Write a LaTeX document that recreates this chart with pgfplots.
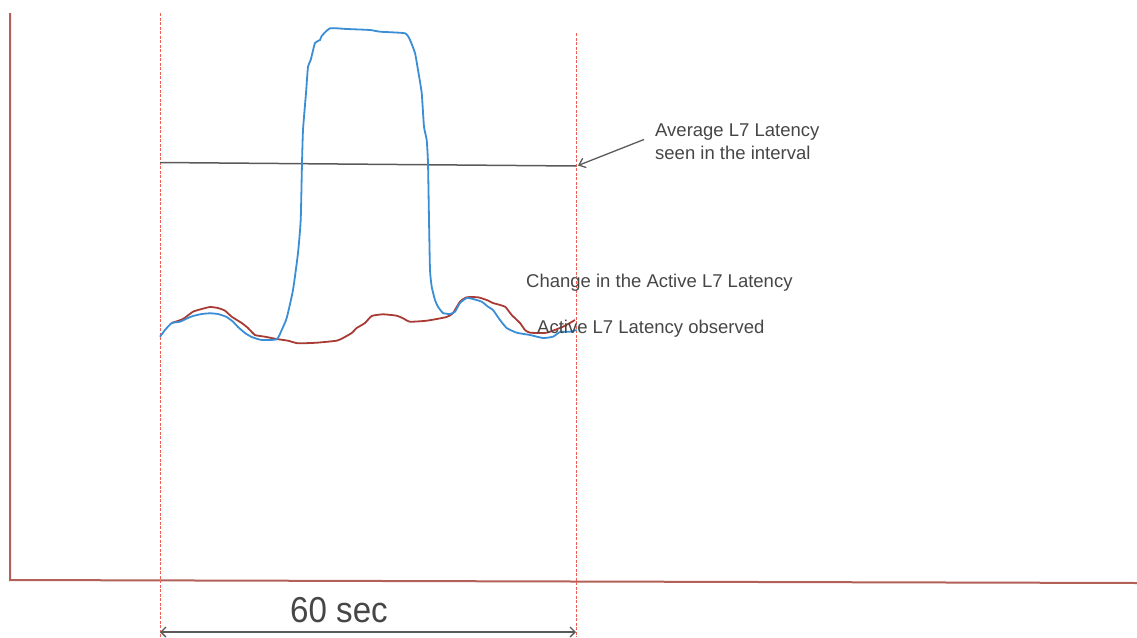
\documentclass[border=0pt]{standalone}
\usepackage{pgfplots}
\pgfplotsset{compat=1.18}
\usepackage{fontspec}
\setmainfont{Liberation Sans}
\usetikzlibrary{arrows.meta}
\definecolor{axisred}{RGB}{178,96,88}
\definecolor{dashred}{RGB}{238,96,84}
\definecolor{curveblue}{RGB}{58,142,214}
\definecolor{curvered}{RGB}{168,60,52}
\definecolor{txtgray}{RGB}{70,70,70}
\definecolor{linegray}{RGB}{90,90,90}
\begin{document}
\begin{tikzpicture}
\begin{axis}[
  width=1137pt, height=637pt, scale only axis,
  xmin=0, xmax=1137, ymin=0, ymax=637, y dir=reverse,
  hide axis, clip=false,
]
% axes
\addplot[axisred, line width=2pt] coordinates {(10,13) (10,580) (1137,583)};
% dashed interval lines
\addplot[dashred, line width=1pt, dash pattern=on 3pt off 1.5pt] coordinates {(160,13) (160,637)};
\addplot[dashred, line width=1pt, dash pattern=on 3pt off 1.5pt] coordinates {(576,33) (576,637)};
% average line
\addplot[linegray, line width=1.5pt] coordinates {(160,162.5) (576,166)};
% red curve (active latency observed)
\addplot[curvered, line width=1.8pt, smooth, tension=0.3] coordinates {
(171.7,323) (183,319) (193,311.7) (201.7,309) (210,307) (218,308) (225,310.7)
(231.7,316.7) (241.7,323) (248,328) (255,335) (265,336.7) (276.7,339) (288,340.7)
(298,343.3) (316.7,342.7) (336.7,340.7) (343,338) (351.7,333) (356.7,328) (365,323)
(371.7,316) (383,314.3) (396.7,315.7) (403,318.3) (410,321.7) (426.7,320.7) (446.7,317)
(453,313) (460,301.7) (466.7,297.3) (478,297.3) (486.7,300) (493,303) (505,306.7)
(511.7,315) (520,323) (525,330) (530,332.7) (546.7,332.7) (563,326.7) (575,320)};
% blue curve (change in active latency)
\addplot[curveblue, line width=1.8pt, smooth, tension=0.3] coordinates {
(160,336.7) (165,330) (171.7,323) (180,321.7) (188,318) (193,316) (201.7,314)
(210,313.3) (218,314) (226.7,317) (233,321.7) (238,327) (245,333) (251.7,337)
(261.7,340) (276.7,339.3) (281.7,330) (286.7,318) (293,290) (298,253) (300.7,220)
(302,163) (303,130) (306,93) (308,66.7) (310.7,60) (315,43) (320,40) (321.7,36)
(330,28.3) (346.7,29) (370,30) (380,31.7) (405,33.3) (410,40) (415,53) (418,70)
(421.7,93) (424,126.7) (426.7,140) (428,163) (429,220) (430,270) (431.7,286.7)
(435,300) (438,306.7) (443,313) (450,314) (455,311.7) (460,303) (466.7,298)
(473,299) (481.7,301.7) (488,306.7) (493,310) (500,320) (506.7,328) (516.7,332.7)
(530,335) (543,338) (553,336.7) (560,332) (570,331.7) (576.7,330)};
% annotation arrow
\draw[linegray, line width=1.3pt, -{Straight Barb[length=6pt,width=10pt]}] (axis cs:644,139.5) -- (axis cs:578,165.5);
% bottom double arrow
\draw[linegray, line width=1.3pt, {Straight Barb[length=5pt,width=10pt]}-{Straight Barb[length=5pt,width=10pt]}] (axis cs:160,632) -- (axis cs:576,632);
% texts
\node[txtgray, anchor=base west, inner sep=0pt, font=\fontsize{18.5}{23}\selectfont] at (axis cs:655,136.5) {Average L7 Latency};
\node[txtgray, anchor=base west, inner sep=0pt, font=\fontsize{18.5}{23}\selectfont] at (axis cs:655,159.5) {seen in the interval};
\node[txtgray, anchor=base west, inner sep=0pt, font=\fontsize{18.5}{23}\selectfont] at (axis cs:526,287.3) {Change in the Active L7 Latency};
\node[txtgray, anchor=base west, inner sep=0pt, font=\fontsize{18.5}{23}\selectfont] at (axis cs:537,333.3) {Active L7 Latency observed};
\node[txtgray, anchor=base west, inner sep=0pt, xscale=0.92, font=\fontsize{36}{40}\selectfont] at (axis cs:290,622) {60 sec};
\end{axis}
\pgfresetboundingbox
\path (0,0) rectangle (1137pt,637pt);
\end{tikzpicture}
\end{document}
